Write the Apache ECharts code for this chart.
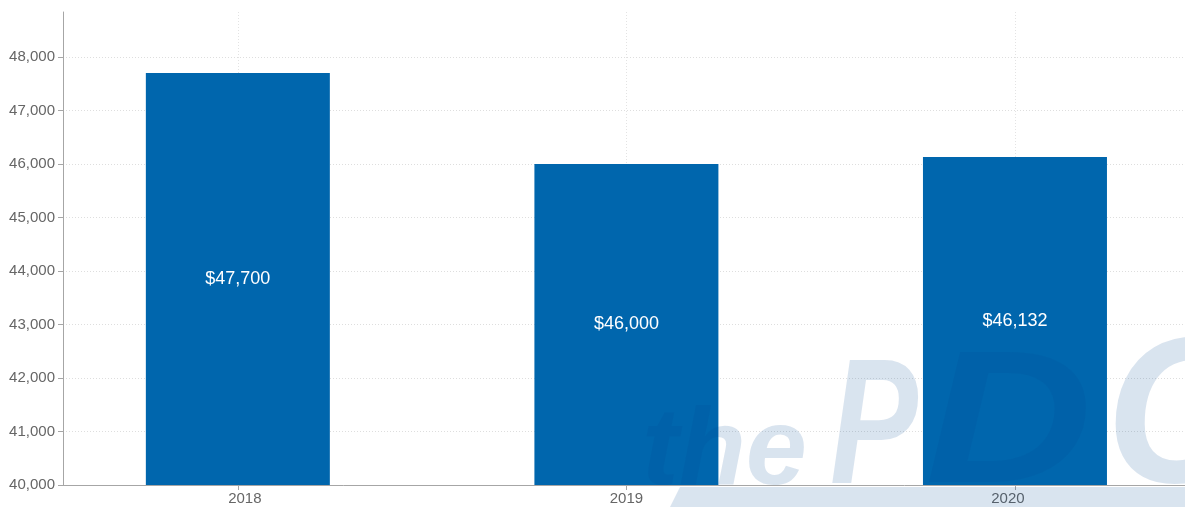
<!DOCTYPE html>
<html>
<head>
<meta charset="utf-8">
<script src="https://cdn.jsdelivr.net/npm/echarts@6/dist/echarts.min.js"></script>
<style>
  html, body { margin: 0; padding: 0; background: #fff; }
  #chart { width: 1185px; height: 507px; }
</style>
</head>
<body>
<div id="chart"></div>
<script>
// Median salary by year
const years = ['2018', '2019', '2020'];
const salaries = [47700, 46000, 46132];
const yTicks = [40000, 41000, 42000, 43000, 44000, 45000, 46000, 47000, 48000];

const BAR = '#0066ad';
const FONT = '"Liberation Sans", Arial, sans-serif';
const WM = 'rgba(0, 72, 145, 0.15)';

const fmt = v => v.toLocaleString('en-US');
const xIndex = years.map((_, i) => i);

const chart = echarts.init(document.getElementById('chart'), null, { renderer: 'canvas' });

// Watermark letter: font size, left x; baseline sits on the logo band
const BASE = 487;
const letter = (text, size, x, scaleX) => ({
  type: 'text', x: x, y: BASE + size * 0.2, scaleX: scaleX || 1, z: 100,
  style: { text: text, fill: WM, font: 'italic bold ' + size + 'px ' + FONT, verticalAlign: 'bottom' }
});

chart.setOption({
  animation: false,
  textStyle: { fontFamily: FONT },
  grid: { left: 63, right: 0, top: 12, bottom: 22, containLabel: false },
  xAxis: {
    type: 'value',
    min: -0.45,
    max: 2.4376,
    axisLine: { show: true, onZero: false, lineStyle: { color: '#a6a6a6', width: 1 } },
    axisTick: { show: true, customValues: xIndex, length: 5, lineStyle: { color: '#a6a6a6' } },
    axisLabel: {
      customValues: xIndex,
      margin: 6,
      color: '#666',
      fontSize: 15,
      fontFamily: FONT,
      formatter: v => {
        const i = Math.round(v);
        const key = i === 0 ? 'l' : (i === years.length - 1 ? 'r' : 'c');
        return '{' + key + '|' + years[i] + '}';
      },
      rich: {
        l: { padding: [0, 0, 0, 14], color: '#666', fontSize: 15, fontFamily: FONT },
        c: { color: '#666', fontSize: 15, fontFamily: FONT },
        r: { padding: [0, 14, 0, 0], color: '#666', fontSize: 15, fontFamily: FONT }
      }
    },
    splitLine: { show: true, lineStyle: { color: '#e3e3e3', type: [1, 2], width: 1 } }
  },
  yAxis: {
    type: 'value',
    min: 40000,
    max: 48840,
    interval: 1000,
    axisLine: { show: true, onZero: false, lineStyle: { color: '#a6a6a6', width: 1 } },
    axisTick: { show: true, customValues: yTicks, length: 5, lineStyle: { color: '#a6a6a6' } },
    axisLabel: {
      customValues: yTicks,
      margin: 8,
      color: '#666',
      fontSize: 15,
      fontFamily: FONT,
      formatter: v => fmt(v)
    },
    splitLine: { show: true, showMinLine: false, lineStyle: { color: '#dedede', type: [1, 2], width: 1 } }
  },
  series: [{
    type: 'bar',
    barWidth: 184,
    data: salaries.map((v, i) => [i, v]),
    itemStyle: { color: BAR },
    label: {
      show: true,
      position: 'inside',
      color: '#fff',
      fontSize: 18,
      fontFamily: FONT,
      formatter: p => '$' + fmt(p.value[1])
    },
    z: 2
  }],
  graphic: [{
    type: 'group',
    silent: true,
    z: 100,
    children: [
      // logo base band
      { type: 'polygon', z: 100,
        shape: { points: [[680, BASE], [1185, BASE], [1185, 507], [670, 507]] },
        style: { fill: WM } },
      letter('the', 110, 642, 1),
      letter('P', 178, 830, 0.74),
      letter('D', 190, 925, 1.22),
      letter('C', 208, 1106, 0.95)
    ]
  }]
});
</script>
</body>
</html>
